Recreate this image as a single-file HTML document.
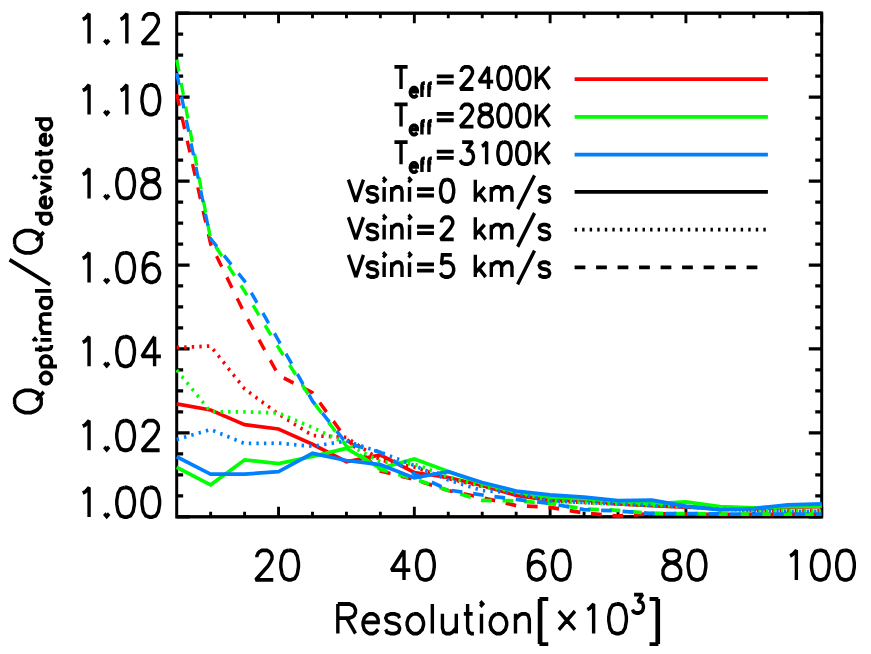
<!DOCTYPE html>
<html><head><meta charset="utf-8"><title>Q optimal / Q deviated vs Resolution</title>
<style>html,body{margin:0;padding:0;background:#fff;font-family:"Liberation Sans",sans-serif;}svg{display:block}</style>
</head><body>
<svg width="871" height="654" viewBox="0 0 871 654">
<rect x="0" y="0" width="871" height="654" fill="#ffffff"/>
<g transform="scale(1,1.1200)">
<g fill="none" stroke="#000" stroke-linecap="butt" stroke-linejoin="miter">
<rect x="176.70" y="11.79" width="645.00" height="449.64" stroke-width="3.00"/>
<path d="M210.65 461.43 V456.92 M210.65 11.79 V16.29 M244.59 461.43 V456.92 M244.59 11.79 V16.29 M278.54 461.43 V452.41 M278.54 11.79 V20.80 M312.49 461.43 V456.92 M312.49 11.79 V16.29 M346.44 461.43 V456.92 M346.44 11.79 V16.29 M380.38 461.43 V456.92 M380.38 11.79 V16.29 M414.33 461.43 V452.41 M414.33 11.79 V20.80 M448.28 461.43 V456.92 M448.28 11.79 V16.29 M482.23 461.43 V456.92 M482.23 11.79 V16.29 M516.17 461.43 V456.92 M516.17 11.79 V16.29 M550.12 461.43 V452.41 M550.12 11.79 V20.80 M584.07 461.43 V456.92 M584.07 11.79 V16.29 M618.02 461.43 V456.92 M618.02 11.79 V16.29 M651.96 461.43 V456.92 M651.96 11.79 V16.29 M685.91 461.43 V452.41 M685.91 11.79 V20.80 M719.86 461.43 V456.92 M719.86 11.79 V16.29 M753.81 461.43 V456.92 M753.81 11.79 V16.29 M787.75 461.43 V456.92 M787.75 11.79 V16.29 M821.70 461.43 V452.41 M821.70 11.79 V20.80 M176.70 461.43 H189.60 M821.70 461.43 H808.80 M176.70 442.69 H183.15 M821.70 442.69 H815.25 M176.70 423.96 H183.15 M821.70 423.96 H815.25 M176.70 405.22 H183.15 M821.70 405.22 H815.25 M176.70 386.49 H189.60 M821.70 386.49 H808.80 M176.70 367.75 H183.15 M821.70 367.75 H815.25 M176.70 349.02 H183.15 M821.70 349.02 H815.25 M176.70 330.28 H183.15 M821.70 330.28 H815.25 M176.70 311.55 H189.60 M821.70 311.55 H808.80 M176.70 292.81 H183.15 M821.70 292.81 H815.25 M176.70 274.08 H183.15 M821.70 274.08 H815.25 M176.70 255.34 H183.15 M821.70 255.34 H815.25 M176.70 236.61 H189.60 M821.70 236.61 H808.80 M176.70 217.87 H183.15 M821.70 217.87 H815.25 M176.70 199.14 H183.15 M821.70 199.14 H815.25 M176.70 180.40 H183.15 M821.70 180.40 H815.25 M176.70 161.67 H189.60 M821.70 161.67 H808.80 M176.70 142.93 H183.15 M821.70 142.93 H815.25 M176.70 124.20 H183.15 M821.70 124.20 H815.25 M176.70 105.46 H183.15 M821.70 105.46 H815.25 M176.70 86.73 H189.60 M821.70 86.73 H808.80 M176.70 67.99 H183.15 M821.70 67.99 H815.25 M176.70 49.26 H183.15 M821.70 49.26 H815.25 M176.70 30.52 H183.15 M821.70 30.52 H815.25 M176.70 11.79 H189.60 M821.70 11.79 H808.80" stroke-width="2.90"/>
</g>
<clipPath id="c"><rect x="175.20" y="11.79" width="648.00" height="451.16"/></clipPath>
<g fill="none" stroke-width="3.35" stroke-linecap="butt" stroke-linejoin="miter" stroke-miterlimit="2" clip-path="url(#c)">
<polyline points="176.7,360.54 210.6,366.07 244.6,379.20 278.5,383.04 312.5,396.61 346.4,412.32 380.4,406.25 414.3,421.87 448.3,426.34 482.2,433.48 516.2,442.23 550.1,446.70 584.1,446.43 618.0,450.00 652.0,451.34 685.9,452.68 719.9,453.57 753.8,454.46 787.8,452.86 821.7,452.32" stroke="#ff0000"/>
<polyline points="176.7,310.36 210.6,308.93 244.6,347.23 278.5,369.73 312.5,388.84 346.4,390.62 380.4,410.71 414.3,416.96 448.3,427.23 482.2,434.37 516.2,439.29 550.1,447.14 584.1,448.66 618.0,450.00 652.0,450.89 685.9,452.68 719.9,454.46 753.8,455.80 787.8,456.25 821.7,456.25" stroke="#ff0000" stroke-dasharray="2.4 5.15"/>
<polyline points="176.7,83.93 210.6,217.86 244.6,280.00 278.5,335.09 312.5,350.71 346.4,391.96 380.4,420.54 414.3,428.12 448.3,437.95 482.2,444.37 516.2,451.43 550.1,452.95 584.1,458.04 618.0,460.71 652.0,458.66 685.9,458.93 719.9,459.37 753.8,459.37 787.8,459.11 821.7,459.11" stroke="#ff0000" stroke-dasharray="10.75 10.75"/>
<polyline points="176.7,417.23 210.6,432.95 244.6,410.62 278.5,414.02 312.5,407.59 346.4,400.27 380.4,418.12 414.3,409.73 448.3,420.98 482.2,431.70 516.2,439.11 550.1,443.84 584.1,445.27 618.0,447.77 652.0,449.82 685.9,448.12 719.9,452.32 753.8,453.57 787.8,452.41 821.7,451.96" stroke="#00ff00"/>
<polyline points="176.7,330.36 210.6,367.68 244.6,367.68 278.5,368.75 312.5,381.70 346.4,396.07 380.4,412.23 414.3,414.29 448.3,425.89 482.2,433.93 516.2,439.29 550.1,447.14 584.1,448.66 618.0,450.00 652.0,450.89 685.9,452.23 719.9,454.02 753.8,455.80 787.8,456.25 821.7,456.25" stroke="#00ff00" stroke-dasharray="2.4 5.15"/>
<polyline points="176.7,53.21 210.6,213.21 244.6,260.00 278.5,310.45 312.5,358.04 346.4,398.21 380.4,419.11 414.3,427.68 448.3,437.95 482.2,446.87 516.2,447.14 550.1,449.55 584.1,454.37 618.0,455.62 652.0,458.48 685.9,458.57 719.9,458.93 753.8,459.11 787.8,459.11 821.7,459.11" stroke="#00ff00" stroke-dasharray="10.75 10.75"/>
<polyline points="176.7,407.86 210.6,423.30 244.6,423.30 278.5,421.16 312.5,404.73 346.4,411.16 380.4,414.91 414.3,426.70 448.3,421.07 482.2,430.80 516.2,438.39 550.1,441.87 584.1,443.93 618.0,446.96 652.0,446.61 685.9,451.96 719.9,455.18 753.8,454.02 787.8,450.89 821.7,449.91" stroke="#0080ff"/>
<polyline points="176.7,392.41 210.6,383.48 244.6,395.98 278.5,395.71 312.5,398.48 346.4,393.75 380.4,403.75 414.3,415.62 448.3,428.57 482.2,437.95 516.2,440.36 550.1,447.14 584.1,448.66 618.0,450.00 652.0,451.34 685.9,452.68 719.9,454.46 753.8,455.80 787.8,456.52 821.7,456.52" stroke="#0080ff" stroke-dasharray="2.4 5.15"/>
<polyline points="176.7,65.18 210.6,213.21 244.6,250.98 278.5,303.93 312.5,358.04 346.4,395.71 380.4,403.75 414.3,423.21 448.3,437.50 482.2,441.96 516.2,445.89 550.1,449.55 584.1,455.00 618.0,456.25 652.0,458.48 685.9,458.57 719.9,458.93 753.8,459.11 787.8,459.11 821.7,459.11" stroke="#0080ff" stroke-dasharray="10.75 10.75"/>
</g>
<g fill="none" stroke-width="3.35" stroke-linecap="butt">
<path d="M574.6 70.71 H767.9" stroke="#ff0000"/>
<path d="M574.6 104.29 H767.9" stroke="#00ff00"/>
<path d="M574.6 137.95 H767.9" stroke="#0080ff"/>
<path d="M574.6 171.34 H767.9" stroke="#000"/>
<path d="M574.6 205.09 H767.9" stroke="#000" stroke-dasharray="2.4 5.15"/>
<path d="M574.6 238.66 H767.9" stroke="#000" stroke-dasharray="10.75 10.75"/>
</g>
<g fill="none" stroke="#000" stroke-width="3.40" stroke-linecap="butt" stroke-linejoin="miter" stroke-miterlimit="2.00">
<path d="M82.76 17.35 L85.28 16.09 L89.06 12.31 L89.06 38.75 M106.70 35.73 L105.44 36.99 L106.70 38.25 L107.96 36.99 L106.70 35.73 M120.56 17.35 L123.08 16.09 L126.86 12.31 L126.86 38.75 M143.24 18.61 L143.24 17.35 L144.50 14.83 L145.76 13.57 L148.28 12.31 L153.32 12.31 L155.84 13.57 L157.10 14.83 L158.36 17.35 L158.36 19.87 L157.10 22.38 L154.58 26.16 L141.98 38.75 L159.62 38.75"/>
<path d="M82.76 80.86 L85.28 79.60 L89.06 75.82 L89.06 102.26 M106.70 99.24 L105.44 100.50 L106.70 101.76 L107.96 100.50 L106.70 99.24 M120.56 80.86 L123.08 79.60 L126.86 75.82 L126.86 102.26 M149.54 75.82 L145.76 77.08 L143.24 80.86 L141.98 87.15 L141.98 90.93 L143.24 97.23 L145.76 101.00 L149.54 102.26 L152.06 102.26 L155.84 101.00 L158.36 97.23 L159.62 90.93 L159.62 87.15 L158.36 80.86 L155.84 77.08 L152.06 75.82 L149.54 75.82"/>
<path d="M82.76 155.80 L85.28 154.54 L89.06 150.76 L89.06 177.20 M106.70 174.18 L105.44 175.44 L106.70 176.70 L107.96 175.44 L106.70 174.18 M124.34 150.76 L120.56 152.02 L118.04 155.80 L116.78 162.10 L116.78 165.87 L118.04 172.17 L120.56 175.94 L124.34 177.20 L126.86 177.20 L130.64 175.94 L133.16 172.17 L134.42 165.87 L134.42 162.10 L133.16 155.80 L130.64 152.02 L126.86 150.76 L124.34 150.76 M148.28 150.76 L144.50 152.02 L143.24 154.54 L143.24 157.06 L144.50 159.58 L147.02 160.84 L152.06 162.10 L155.84 163.35 L158.36 165.87 L159.62 168.39 L159.62 172.17 L158.36 174.68 L157.10 175.94 L153.32 177.20 L148.28 177.20 L144.50 175.94 L143.24 174.68 L141.98 172.17 L141.98 168.39 L143.24 165.87 L145.76 163.35 L149.54 162.10 L154.58 160.84 L157.10 159.58 L158.36 157.06 L158.36 154.54 L157.10 152.02 L153.32 150.76 L148.28 150.76"/>
<path d="M82.76 230.74 L85.28 229.48 L89.06 225.71 L89.06 252.14 M106.70 249.12 L105.44 250.38 L106.70 251.64 L107.96 250.38 L106.70 249.12 M124.34 225.71 L120.56 226.96 L118.04 230.74 L116.78 237.04 L116.78 240.81 L118.04 247.11 L120.56 250.88 L124.34 252.14 L126.86 252.14 L130.64 250.88 L133.16 247.11 L134.42 240.81 L134.42 237.04 L133.16 230.74 L130.64 226.96 L126.86 225.71 L124.34 225.71 M158.36 229.48 L157.10 226.96 L153.32 225.71 L150.80 225.71 L147.02 226.96 L144.50 230.74 L143.24 237.04 L143.24 243.33 L144.50 248.37 L147.02 250.88 L150.80 252.14 L152.06 252.14 L155.84 250.88 L158.36 248.37 L159.62 244.59 L159.62 243.33 L158.36 239.55 L155.84 237.04 L152.06 235.78 L150.80 235.78 L147.02 237.04 L144.50 239.55 L143.24 243.33"/>
<path d="M82.76 305.68 L85.28 304.42 L89.06 300.65 L89.06 327.08 M106.70 324.06 L105.44 325.32 L106.70 326.58 L107.96 325.32 L106.70 324.06 M124.34 300.65 L120.56 301.90 L118.04 305.68 L116.78 311.98 L116.78 315.75 L118.04 322.05 L120.56 325.82 L124.34 327.08 L126.86 327.08 L130.64 325.82 L133.16 322.05 L134.42 315.75 L134.42 311.98 L133.16 305.68 L130.64 301.90 L126.86 300.65 L124.34 300.65 M154.58 300.65 L141.98 318.27 L160.88 318.27 M154.58 300.65 L154.58 327.08"/>
<path d="M82.76 380.62 L85.28 379.36 L89.06 375.59 L89.06 402.02 M106.70 399.00 L105.44 400.26 L106.70 401.52 L107.96 400.26 L106.70 399.00 M124.34 375.59 L120.56 376.85 L118.04 380.62 L116.78 386.92 L116.78 390.69 L118.04 396.99 L120.56 400.76 L124.34 402.02 L126.86 402.02 L130.64 400.76 L133.16 396.99 L134.42 390.69 L134.42 386.92 L133.16 380.62 L130.64 376.85 L126.86 375.59 L124.34 375.59 M143.24 381.88 L143.24 380.62 L144.50 378.10 L145.76 376.85 L148.28 375.59 L153.32 375.59 L155.84 376.85 L157.10 378.10 L158.36 380.62 L158.36 383.14 L157.10 385.66 L154.58 389.43 L141.98 402.02 L159.62 402.02"/>
<path d="M82.76 440.29 L85.28 439.04 L89.06 435.26 L89.06 461.70 M106.70 458.67 L105.44 459.93 L106.70 461.19 L107.96 459.93 L106.70 458.67 M124.34 435.26 L120.56 436.52 L118.04 440.29 L116.78 446.59 L116.78 450.37 L118.04 456.66 L120.56 460.44 L124.34 461.70 L126.86 461.70 L130.64 460.44 L133.16 456.66 L134.42 450.37 L134.42 446.59 L133.16 440.29 L130.64 436.52 L126.86 435.26 L124.34 435.26 M149.54 435.26 L145.76 436.52 L143.24 440.29 L141.98 446.59 L141.98 450.37 L143.24 456.66 L145.76 460.44 L149.54 461.70 L152.06 461.70 L155.84 460.44 L158.36 456.66 L159.62 450.37 L159.62 446.59 L158.36 440.29 L155.84 436.52 L152.06 435.26 L149.54 435.26"/>
<path d="M256.88 497.62 L256.88 496.37 L258.14 493.85 L259.40 492.59 L261.92 491.33 L266.96 491.33 L269.48 492.59 L270.74 493.85 L272.00 496.37 L272.00 498.88 L270.74 501.40 L268.22 505.18 L255.62 517.77 L273.26 517.77 M288.38 491.33 L284.60 492.59 L282.08 496.37 L280.82 502.66 L280.82 506.44 L282.08 512.73 L284.60 516.51 L288.38 517.77 L290.90 517.77 L294.68 516.51 L297.20 512.73 L298.46 506.44 L298.46 502.66 L297.20 496.37 L294.68 492.59 L290.90 491.33 L288.38 491.33"/>
<path d="M404.01 491.33 L391.41 508.96 L410.31 508.96 M404.01 491.33 L404.01 517.77 M424.17 491.33 L420.39 492.59 L417.87 496.37 L416.61 502.66 L416.61 506.44 L417.87 512.73 L420.39 516.51 L424.17 517.77 L426.69 517.77 L430.47 516.51 L432.99 512.73 L434.25 506.44 L434.25 502.66 L432.99 496.37 L430.47 492.59 L426.69 491.33 L424.17 491.33"/>
<path d="M543.58 495.11 L542.32 492.59 L538.54 491.33 L536.02 491.33 L532.24 492.59 L529.72 496.37 L528.46 502.66 L528.46 508.96 L529.72 513.99 L532.24 516.51 L536.02 517.77 L537.28 517.77 L541.06 516.51 L543.58 513.99 L544.84 510.21 L544.84 508.96 L543.58 505.18 L541.06 502.66 L537.28 501.40 L536.02 501.40 L532.24 502.66 L529.72 505.18 L528.46 508.96 M559.96 491.33 L556.18 492.59 L553.66 496.37 L552.40 502.66 L552.40 506.44 L553.66 512.73 L556.18 516.51 L559.96 517.77 L562.48 517.77 L566.26 516.51 L568.78 512.73 L570.04 506.44 L570.04 502.66 L568.78 496.37 L566.26 492.59 L562.48 491.33 L559.96 491.33"/>
<path d="M669.29 491.33 L665.51 492.59 L664.25 495.11 L664.25 497.62 L665.51 500.14 L668.03 501.40 L673.07 502.66 L676.85 503.92 L679.37 506.44 L680.63 508.96 L680.63 512.73 L679.37 515.25 L678.11 516.51 L674.33 517.77 L669.29 517.77 L665.51 516.51 L664.25 515.25 L662.99 512.73 L662.99 508.96 L664.25 506.44 L666.77 503.92 L670.55 502.66 L675.59 501.40 L678.11 500.14 L679.37 497.62 L679.37 495.11 L678.11 492.59 L674.33 491.33 L669.29 491.33 M695.75 491.33 L691.97 492.59 L689.45 496.37 L688.19 502.66 L688.19 506.44 L689.45 512.73 L691.97 516.51 L695.75 517.77 L698.27 517.77 L702.05 516.51 L704.57 512.73 L705.83 506.44 L705.83 502.66 L704.57 496.37 L702.05 492.59 L698.27 491.33 L695.75 491.33"/>
<path d="M790.06 496.37 L792.58 495.11 L796.36 491.33 L796.36 517.77 M819.04 491.33 L815.26 492.59 L812.74 496.37 L811.48 502.66 L811.48 506.44 L812.74 512.73 L815.26 516.51 L819.04 517.77 L821.56 517.77 L825.34 516.51 L827.86 512.73 L829.12 506.44 L829.12 502.66 L827.86 496.37 L825.34 492.59 L821.56 491.33 L819.04 491.33 M844.24 491.33 L840.46 492.59 L837.94 496.37 L836.68 502.66 L836.68 506.44 L837.94 512.73 L840.46 516.51 L844.24 517.77 L846.76 517.77 L850.54 516.51 L853.06 512.73 L854.32 506.44 L854.32 502.66 L853.06 496.37 L850.54 492.59 L846.76 491.33 L844.24 491.33"/>
<path d="M337.84 539.28 L337.84 565.71 M337.84 539.28 L349.18 539.28 L352.96 540.54 L354.22 541.79 L355.48 544.31 L355.48 546.83 L354.22 549.35 L352.96 550.61 L349.18 551.87 L337.84 551.87 M346.66 551.87 L355.48 565.71 M363.04 555.64 L378.16 555.64 L378.16 553.12 L376.90 550.61 L375.64 549.35 L373.12 548.09 L369.34 548.09 L366.82 549.35 L364.30 551.87 L363.04 555.64 L363.04 558.16 L364.30 561.94 L366.82 564.46 L369.34 565.71 L373.12 565.71 L375.64 564.46 L378.16 561.94 M399.58 551.87 L398.32 549.35 L394.54 548.09 L390.76 548.09 L386.98 549.35 L385.72 551.87 L386.98 554.38 L389.50 555.64 L395.80 556.90 L398.32 558.16 L399.58 560.68 L399.58 561.94 L398.32 564.46 L394.54 565.71 L390.76 565.71 L386.98 564.46 L385.72 561.94 M413.44 548.09 L410.92 549.35 L408.40 551.87 L407.14 555.64 L407.14 558.16 L408.40 561.94 L410.92 564.46 L413.44 565.71 L417.22 565.71 L419.74 564.46 L422.26 561.94 L423.52 558.16 L423.52 555.64 L422.26 551.87 L419.74 549.35 L417.22 548.09 L413.44 548.09 M432.34 539.28 L432.34 565.71 M442.42 548.09 L442.42 560.68 L443.68 564.46 L446.20 565.71 L449.98 565.71 L452.50 564.46 L456.28 560.68 M456.28 548.09 L456.28 565.71 M467.62 539.28 L467.62 560.68 L468.88 564.46 L471.40 565.71 L473.92 565.71 M463.84 548.09 L472.66 548.09 M480.22 539.28 L481.48 540.54 L482.74 539.28 L481.48 538.02 L480.22 539.28 M481.48 548.09 L481.48 565.71 M496.60 548.09 L494.08 549.35 L491.56 551.87 L490.30 555.64 L490.30 558.16 L491.56 561.94 L494.08 564.46 L496.60 565.71 L500.38 565.71 L502.90 564.46 L505.42 561.94 L506.68 558.16 L506.68 555.64 L505.42 551.87 L502.90 549.35 L500.38 548.09 L496.60 548.09 M515.50 548.09 L515.50 565.71 M515.50 553.12 L519.28 549.35 L521.80 548.09 L525.58 548.09 L528.10 549.35 L529.36 553.12 L529.36 565.71 M539.44 534.81 L539.44 575.09 M540.70 534.81 L540.70 575.09 M539.44 534.81 L548.26 534.81 M539.44 575.09 L548.26 575.09 M558.84 545.70 L574.97 562.32 M574.97 545.70 L558.84 562.32 M587.32 544.31 L589.84 543.05 L593.62 539.28 L593.62 565.71 M616.30 539.28 L612.52 540.54 L610.00 544.31 L608.74 550.61 L608.74 554.38 L610.00 560.68 L612.52 564.46 L616.30 565.71 L618.82 565.71 L622.60 564.46 L625.12 560.68 L626.38 554.38 L626.38 550.61 L625.12 544.31 L622.60 540.54 L618.82 539.28 L616.30 539.28 M634.07 530.94 L642.66 530.94 L637.97 537.19 L640.32 537.19 L641.88 537.97 L642.66 538.75 L643.44 541.09 L643.44 542.65 L642.66 544.99 L641.10 546.55 L638.75 547.33 L636.41 547.33 L634.07 546.55 L633.28 545.77 L632.50 544.21 M657.12 534.81 L657.12 575.09 M658.38 534.81 L658.38 575.09 M649.56 534.81 L658.38 534.81 M649.56 575.09 L658.38 575.09"/>
<path d="M14.59 360.92 L15.86 363.40 L18.39 365.87 L20.93 367.11 L24.73 368.34 L31.06 368.34 L34.87 367.11 L37.40 365.87 L39.93 363.40 L41.20 360.92 L41.20 355.98 L39.93 353.50 L37.40 351.03 L34.87 349.79 L31.06 348.56 L24.73 348.56 L20.93 349.79 L18.39 351.03 L15.86 353.50 L14.59 355.98 L14.59 360.92 M36.13 357.21 L43.73 349.79 M40.47 338.71 L41.25 340.25 L42.82 341.78 L45.18 342.55 L46.75 342.55 L49.11 341.78 L50.68 340.25 L51.46 338.71 L51.46 336.41 L50.68 334.88 L49.11 333.35 L46.75 332.58 L45.18 332.58 L42.82 333.35 L41.25 334.88 L40.47 336.41 L40.47 338.71 M40.47 327.21 L56.96 327.21 M42.82 327.21 L41.25 325.68 L40.47 324.15 L40.47 321.85 L41.25 320.31 L42.82 318.78 L45.18 318.01 L46.75 318.01 L49.11 318.78 L50.68 320.31 L51.46 321.85 L51.46 324.15 L50.68 325.68 L49.11 327.21 M34.97 311.88 L48.32 311.88 L50.68 311.11 L51.46 309.58 L51.46 308.05 M40.47 314.18 L40.47 308.81 M34.97 304.21 L35.75 303.45 L34.97 302.68 L34.18 303.45 L34.97 304.21 M40.47 303.45 L51.46 303.45 M40.47 297.31 L51.46 297.31 M43.61 297.31 L41.25 295.01 L40.47 293.48 L40.47 291.18 L41.25 289.65 L43.61 288.88 L51.46 288.88 M43.61 288.88 L41.25 286.58 L40.47 285.05 L40.47 282.75 L41.25 281.21 L43.61 280.45 L51.46 280.45 M40.47 265.88 L51.46 265.88 M42.82 265.88 L41.25 267.41 L40.47 268.95 L40.47 271.25 L41.25 272.78 L42.82 274.31 L45.18 275.08 L46.75 275.08 L49.11 274.31 L50.68 272.78 L51.46 271.25 L51.46 268.95 L50.68 267.41 L49.11 265.88 M34.97 259.74 L51.46 259.74 M9.53 231.95 L50.07 254.20 M14.59 218.34 L15.86 220.82 L18.39 223.29 L20.93 224.53 L24.73 225.76 L31.06 225.76 L34.87 224.53 L37.40 223.29 L39.93 220.82 L41.20 218.34 L41.20 213.40 L39.93 210.92 L37.40 208.45 L34.87 207.21 L31.06 205.98 L24.73 205.98 L20.93 207.21 L18.39 208.45 L15.86 210.92 L14.59 213.40 L14.59 218.34 M36.13 214.63 L43.73 207.21 M34.97 190.77 L51.46 190.77 M42.82 190.77 L41.25 192.30 L40.47 193.83 L40.47 196.13 L41.25 197.67 L42.82 199.20 L45.18 199.97 L46.75 199.97 L49.11 199.20 L50.68 197.67 L51.46 196.13 L51.46 193.83 L50.68 192.30 L49.11 190.77 M45.18 185.40 L45.18 176.20 L43.61 176.20 L42.04 176.97 L41.25 177.73 L40.47 179.27 L40.47 181.57 L41.25 183.10 L42.82 184.63 L45.18 185.40 L46.75 185.40 L49.11 184.63 L50.68 183.10 L51.46 181.57 L51.46 179.27 L50.68 177.73 L49.11 176.20 M40.47 172.37 L51.46 167.77 M40.47 163.17 L51.46 167.77 M34.97 159.33 L35.75 158.57 L34.97 157.80 L34.18 158.57 L34.97 159.33 M40.47 158.57 L51.46 158.57 M40.47 144.00 L51.46 144.00 M42.82 144.00 L41.25 145.53 L40.47 147.07 L40.47 149.37 L41.25 150.90 L42.82 152.43 L45.18 153.20 L46.75 153.20 L49.11 152.43 L50.68 150.90 L51.46 149.37 L51.46 147.07 L50.68 145.53 L49.11 144.00 M34.97 137.10 L48.32 137.10 L50.68 136.33 L51.46 134.80 L51.46 133.26 M40.47 139.40 L40.47 134.03 M45.18 129.43 L45.18 120.23 L43.61 120.23 L42.04 121.00 L41.25 121.76 L40.47 123.30 L40.47 125.60 L41.25 127.13 L42.82 128.66 L45.18 129.43 L46.75 129.43 L49.11 128.66 L50.68 127.13 L51.46 125.60 L51.46 123.30 L50.68 121.76 L49.11 120.23 M34.97 106.43 L51.46 106.43 M42.82 106.43 L41.25 107.96 L40.47 109.50 L40.47 111.80 L41.25 113.33 L42.82 114.86 L45.18 115.63 L46.75 115.63 L49.11 114.86 L50.68 113.33 L51.46 111.80 L51.46 109.50 L50.68 107.96 L49.11 106.43"/>
<path d="M401.02 59.68 L401.02 79.46 M394.44 59.68 L407.60 59.68 M410.29 81.86 L417.28 81.86 L417.28 80.69 L416.70 79.52 L416.12 78.94 L414.95 78.35 L413.20 78.35 L412.04 78.94 L410.87 80.10 L410.29 81.86 L410.29 83.02 L410.87 84.78 L412.04 85.94 L413.20 86.53 L414.95 86.53 L416.12 85.94 L417.28 84.78 M424.86 74.26 L423.70 74.26 L422.53 74.85 L421.95 76.60 L421.95 86.53 M420.20 78.35 L424.28 78.35 M431.85 74.26 L430.69 74.26 L429.52 74.85 L428.94 76.60 L428.94 86.53 M427.19 78.35 L431.27 78.35 M436.78 68.16 L453.70 68.16 M436.78 73.81 L453.70 73.81 M461.22 64.39 L461.22 63.45 L462.16 61.57 L463.10 60.62 L464.98 59.68 L468.74 59.68 L470.62 60.62 L471.56 61.57 L472.50 63.45 L472.50 65.33 L471.56 67.22 L469.68 70.04 L460.28 79.46 L473.44 79.46 M488.48 59.68 L479.08 72.87 L493.18 72.87 M488.48 59.68 L488.48 79.46 M503.52 59.68 L500.70 60.62 L498.82 63.45 L497.88 68.16 L497.88 70.99 L498.82 75.70 L500.70 78.52 L503.52 79.46 L505.40 79.46 L508.22 78.52 L510.10 75.70 L511.04 70.99 L511.04 68.16 L510.10 63.45 L508.22 60.62 L505.40 59.68 L503.52 59.68 M522.32 59.68 L519.50 60.62 L517.62 63.45 L516.68 68.16 L516.68 70.99 L517.62 75.70 L519.50 78.52 L522.32 79.46 L524.20 79.46 L527.02 78.52 L528.90 75.70 L529.84 70.99 L529.84 68.16 L528.90 63.45 L527.02 60.62 L524.20 59.68 L522.32 59.68 M536.42 59.68 L536.42 79.46 M549.58 59.68 L536.42 72.87 M541.12 68.16 L549.58 79.46"/>
<path d="M401.02 93.25 L401.02 113.04 M394.44 93.25 L407.60 93.25 M410.29 115.43 L417.28 115.43 L417.28 114.26 L416.70 113.09 L416.12 112.51 L414.95 111.92 L413.20 111.92 L412.04 112.51 L410.87 113.68 L410.29 115.43 L410.29 116.60 L410.87 118.35 L412.04 119.52 L413.20 120.10 L414.95 120.10 L416.12 119.52 L417.28 118.35 M424.86 107.84 L423.70 107.84 L422.53 108.42 L421.95 110.17 L421.95 120.10 M420.20 111.92 L424.28 111.92 M431.85 107.84 L430.69 107.84 L429.52 108.42 L428.94 110.17 L428.94 120.10 M427.19 111.92 L431.27 111.92 M436.78 101.73 L453.70 101.73 M436.78 107.38 L453.70 107.38 M461.22 97.96 L461.22 97.02 L462.16 95.14 L463.10 94.20 L464.98 93.25 L468.74 93.25 L470.62 94.20 L471.56 95.14 L472.50 97.02 L472.50 98.91 L471.56 100.79 L469.68 103.62 L460.28 113.04 L473.44 113.04 M483.78 93.25 L480.96 94.20 L480.02 96.08 L480.02 97.96 L480.96 99.85 L482.84 100.79 L486.60 101.73 L489.42 102.67 L491.30 104.56 L492.24 106.44 L492.24 109.27 L491.30 111.15 L490.36 112.09 L487.54 113.04 L483.78 113.04 L480.96 112.09 L480.02 111.15 L479.08 109.27 L479.08 106.44 L480.02 104.56 L481.90 102.67 L484.72 101.73 L488.48 100.79 L490.36 99.85 L491.30 97.96 L491.30 96.08 L490.36 94.20 L487.54 93.25 L483.78 93.25 M503.52 93.25 L500.70 94.20 L498.82 97.02 L497.88 101.73 L497.88 104.56 L498.82 109.27 L500.70 112.09 L503.52 113.04 L505.40 113.04 L508.22 112.09 L510.10 109.27 L511.04 104.56 L511.04 101.73 L510.10 97.02 L508.22 94.20 L505.40 93.25 L503.52 93.25 M522.32 93.25 L519.50 94.20 L517.62 97.02 L516.68 101.73 L516.68 104.56 L517.62 109.27 L519.50 112.09 L522.32 113.04 L524.20 113.04 L527.02 112.09 L528.90 109.27 L529.84 104.56 L529.84 101.73 L528.90 97.02 L527.02 94.20 L524.20 93.25 L522.32 93.25 M536.42 93.25 L536.42 113.04 M549.58 93.25 L536.42 106.44 M541.12 101.73 L549.58 113.04"/>
<path d="M401.02 126.83 L401.02 146.61 M394.44 126.83 L407.60 126.83 M410.29 149.00 L417.28 149.00 L417.28 147.83 L416.70 146.66 L416.12 146.08 L414.95 145.50 L413.20 145.50 L412.04 146.08 L410.87 147.25 L410.29 149.00 L410.29 150.17 L410.87 151.92 L412.04 153.09 L413.20 153.67 L414.95 153.67 L416.12 153.09 L417.28 151.92 M424.86 141.41 L423.70 141.41 L422.53 141.99 L421.95 143.74 L421.95 153.67 M420.20 145.50 L424.28 145.50 M431.85 141.41 L430.69 141.41 L429.52 141.99 L428.94 143.74 L428.94 153.67 M427.19 145.50 L431.27 145.50 M436.78 135.30 L453.70 135.30 M436.78 140.96 L453.70 140.96 M462.16 126.83 L472.50 126.83 L466.86 134.36 L469.68 134.36 L471.56 135.30 L472.50 136.25 L473.44 139.07 L473.44 140.96 L472.50 143.78 L470.62 145.67 L467.80 146.61 L464.98 146.61 L462.16 145.67 L461.22 144.72 L460.28 142.84 M481.90 130.59 L483.78 129.65 L486.60 126.83 L486.60 146.61 M503.52 126.83 L500.70 127.77 L498.82 130.59 L497.88 135.30 L497.88 138.13 L498.82 142.84 L500.70 145.67 L503.52 146.61 L505.40 146.61 L508.22 145.67 L510.10 142.84 L511.04 138.13 L511.04 135.30 L510.10 130.59 L508.22 127.77 L505.40 126.83 L503.52 126.83 M522.32 126.83 L519.50 127.77 L517.62 130.59 L516.68 135.30 L516.68 138.13 L517.62 142.84 L519.50 145.67 L522.32 146.61 L524.20 146.61 L527.02 145.67 L528.90 142.84 L529.84 138.13 L529.84 135.30 L528.90 130.59 L527.02 127.77 L524.20 126.83 L522.32 126.83 M536.42 126.83 L536.42 146.61 M549.58 126.83 L536.42 140.01 M541.12 135.30 L549.58 146.61"/>
<path d="M348.42 160.40 L355.94 180.18 M363.46 160.40 L355.94 180.18 M377.56 169.82 L376.62 167.93 L373.80 166.99 L370.98 166.99 L368.16 167.93 L367.22 169.82 L368.16 171.70 L370.04 172.64 L374.74 173.58 L376.62 174.53 L377.56 176.41 L377.56 177.35 L376.62 179.24 L373.80 180.18 L370.98 180.18 L368.16 179.24 L367.22 177.35 M383.20 160.40 L384.14 161.34 L385.08 160.40 L384.14 159.46 L383.20 160.40 M384.14 166.99 L384.14 180.18 M391.66 166.99 L391.66 180.18 M391.66 170.76 L394.48 167.93 L396.36 166.99 L399.18 166.99 L401.06 167.93 L402.00 170.76 L402.00 180.18 M408.58 160.40 L409.52 161.34 L410.46 160.40 L409.52 159.46 L408.58 160.40 M409.52 166.99 L409.52 180.18 M417.04 168.88 L433.96 168.88 M417.04 174.53 L433.96 174.53 M446.18 160.40 L443.36 161.34 L441.48 164.17 L440.54 168.88 L440.54 171.70 L441.48 176.41 L443.36 179.24 L446.18 180.18 L448.06 180.18 L450.88 179.24 L452.76 176.41 L453.70 171.70 L453.70 168.88 L452.76 164.17 L450.88 161.34 L448.06 160.40 L446.18 160.40 M475.32 160.40 L475.32 180.18 M484.72 166.99 L475.32 176.41 M479.08 172.64 L485.66 180.18 M491.30 166.99 L491.30 180.18 M491.30 170.76 L494.12 167.93 L496.00 166.99 L498.82 166.99 L500.70 167.93 L501.64 170.76 L501.64 180.18 M501.64 170.76 L504.46 167.93 L506.34 166.99 L509.16 166.99 L511.04 167.93 L511.98 170.76 L511.98 180.18 M534.54 156.63 L517.62 186.77 M549.58 169.82 L548.64 167.93 L545.82 166.99 L543.00 166.99 L540.18 167.93 L539.24 169.82 L540.18 171.70 L542.06 172.64 L546.76 173.58 L548.64 174.53 L549.58 176.41 L549.58 177.35 L548.64 179.24 L545.82 180.18 L543.00 180.18 L540.18 179.24 L539.24 177.35"/>
<path d="M348.42 193.97 L355.94 213.75 M363.46 193.97 L355.94 213.75 M377.56 203.39 L376.62 201.50 L373.80 200.56 L370.98 200.56 L368.16 201.50 L367.22 203.39 L368.16 205.27 L370.04 206.21 L374.74 207.16 L376.62 208.10 L377.56 209.98 L377.56 210.92 L376.62 212.81 L373.80 213.75 L370.98 213.75 L368.16 212.81 L367.22 210.92 M383.20 193.97 L384.14 194.91 L385.08 193.97 L384.14 193.03 L383.20 193.97 M384.14 200.56 L384.14 213.75 M391.66 200.56 L391.66 213.75 M391.66 204.33 L394.48 201.50 L396.36 200.56 L399.18 200.56 L401.06 201.50 L402.00 204.33 L402.00 213.75 M408.58 193.97 L409.52 194.91 L410.46 193.97 L409.52 193.03 L408.58 193.97 M409.52 200.56 L409.52 213.75 M417.04 202.45 L433.96 202.45 M417.04 208.10 L433.96 208.10 M441.48 198.68 L441.48 197.74 L442.42 195.85 L443.36 194.91 L445.24 193.97 L449.00 193.97 L450.88 194.91 L451.82 195.85 L452.76 197.74 L452.76 199.62 L451.82 201.50 L449.94 204.33 L440.54 213.75 L453.70 213.75 M475.32 193.97 L475.32 213.75 M484.72 200.56 L475.32 209.98 M479.08 206.21 L485.66 213.75 M491.30 200.56 L491.30 213.75 M491.30 204.33 L494.12 201.50 L496.00 200.56 L498.82 200.56 L500.70 201.50 L501.64 204.33 L501.64 213.75 M501.64 204.33 L504.46 201.50 L506.34 200.56 L509.16 200.56 L511.04 201.50 L511.98 204.33 L511.98 213.75 M534.54 190.20 L517.62 220.34 M549.58 203.39 L548.64 201.50 L545.82 200.56 L543.00 200.56 L540.18 201.50 L539.24 203.39 L540.18 205.27 L542.06 206.21 L546.76 207.16 L548.64 208.10 L549.58 209.98 L549.58 210.92 L548.64 212.81 L545.82 213.75 L543.00 213.75 L540.18 212.81 L539.24 210.92"/>
<path d="M348.42 227.54 L355.94 247.32 M363.46 227.54 L355.94 247.32 M377.56 236.96 L376.62 235.08 L373.80 234.13 L370.98 234.13 L368.16 235.08 L367.22 236.96 L368.16 238.84 L370.04 239.79 L374.74 240.73 L376.62 241.67 L377.56 243.55 L377.56 244.50 L376.62 246.38 L373.80 247.32 L370.98 247.32 L368.16 246.38 L367.22 244.50 M383.20 227.54 L384.14 228.48 L385.08 227.54 L384.14 226.60 L383.20 227.54 M384.14 234.13 L384.14 247.32 M391.66 234.13 L391.66 247.32 M391.66 237.90 L394.48 235.08 L396.36 234.13 L399.18 234.13 L401.06 235.08 L402.00 237.90 L402.00 247.32 M408.58 227.54 L409.52 228.48 L410.46 227.54 L409.52 226.60 L408.58 227.54 M409.52 234.13 L409.52 247.32 M417.04 236.02 L433.96 236.02 M417.04 241.67 L433.96 241.67 M451.82 227.54 L442.42 227.54 L441.48 236.02 L442.42 235.08 L445.24 234.13 L448.06 234.13 L450.88 235.08 L452.76 236.96 L453.70 239.79 L453.70 241.67 L452.76 244.50 L450.88 246.38 L448.06 247.32 L445.24 247.32 L442.42 246.38 L441.48 245.44 L440.54 243.55 M475.32 227.54 L475.32 247.32 M484.72 234.13 L475.32 243.55 M479.08 239.79 L485.66 247.32 M491.30 234.13 L491.30 247.32 M491.30 237.90 L494.12 235.08 L496.00 234.13 L498.82 234.13 L500.70 235.08 L501.64 237.90 L501.64 247.32 M501.64 237.90 L504.46 235.08 L506.34 234.13 L509.16 234.13 L511.04 235.08 L511.98 237.90 L511.98 247.32 M534.54 223.77 L517.62 253.92 M549.58 236.96 L548.64 235.08 L545.82 234.13 L543.00 234.13 L540.18 235.08 L539.24 236.96 L540.18 238.84 L542.06 239.79 L546.76 240.73 L548.64 241.67 L549.58 243.55 L549.58 244.50 L548.64 246.38 L545.82 247.32 L543.00 247.32 L540.18 246.38 L539.24 244.50"/>
</g>
</g>
</svg>
</body></html>
